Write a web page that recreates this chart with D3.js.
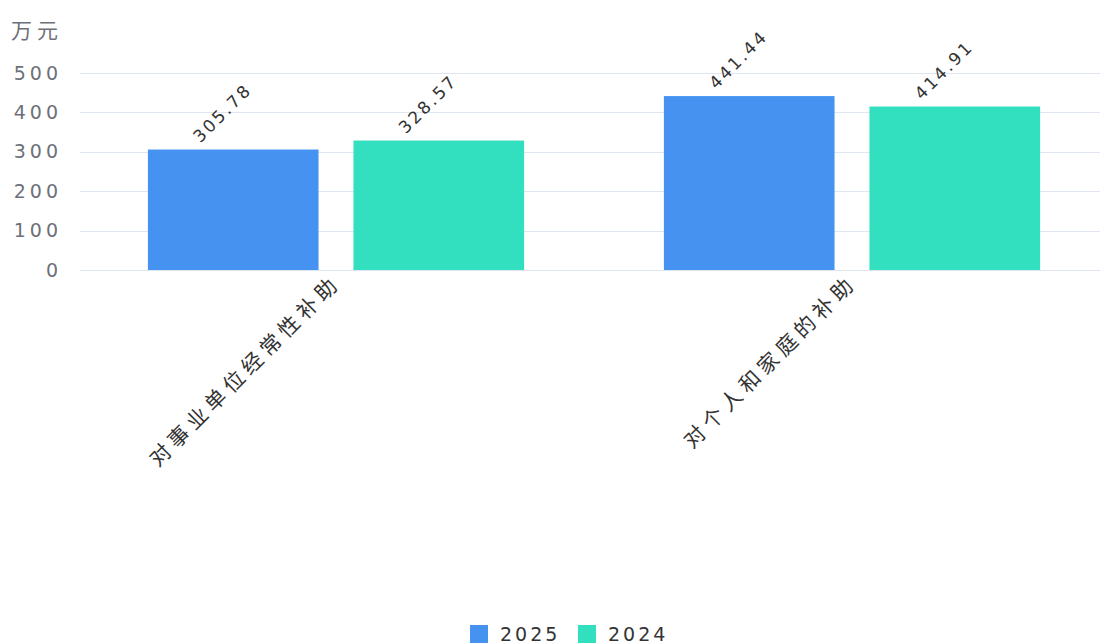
<!DOCTYPE html>
<html><head><meta charset="utf-8">
<script src="https://cdn.jsdelivr.net/npm/d3@7/dist/d3.min.js"></script>
<style>body{margin:0;background:#fff}svg{display:block}</style>
</head><body><svg id="c" width="1100" height="644"></svg>
<script>
const categories = ["对事业单位经常性补助", "对个人和家庭的补助"];
const seriesNames = ["2025", "2024"];
const values2025 = [305.78, 441.44];
const values2024 = [328.57, 414.91];
const yTicks = [0, 100, 200, 300, 400, 500];
const unitLabel = "万元";
const colors = ["#4592F0", "#32DFBE"];

const svg = d3.select("#c");
const font = "'DejaVu Sans', 'Noto Sans CJK SC', sans-serif";
const x = d3.scaleBand().domain(categories).range([78, 1110]).paddingInner(0).paddingOuter(0);
const xs = d3.scaleBand().domain(seriesNames).range([0, x.bandwidth()]).paddingInner(0.17).paddingOuter(0.34);
const y = d3.scaleLinear().domain([0, 500]).range([270, 73]);

// grid
svg.append("g").selectAll("line").data(yTicks).join("line")
  .attr("x1", 80).attr("x2", 1100)
  .attr("y1", d => Math.round(y(d)) + 0.5).attr("y2", d => Math.round(y(d)) + 0.5)
  .attr("stroke", "#e0e6f1").attr("stroke-width", 1);

// y labels
svg.append("g").selectAll("text").data(yTicks).join("text")
  .attr("x", 62).attr("y", d => y(d)).attr("dy", "0.35em")
  .attr("text-anchor", "end").attr("fill", "#6e7079")
  .style("font", `19px ${font}`).style("letter-spacing", "4px")
  .text(d => d);
svg.append("text").attr("x", 11).attr("y", 38).attr("fill", "#6e7079")
  .style("font", `21px 'Noto Sans CJK SC', sans-serif`).style("letter-spacing", "5px").text(unitLabel);

const data = categories.map((c, i) => ({c, vals: [values2025[i], values2024[i]]}));
const g = svg.append("g");
data.forEach(d => {
  d.vals.forEach((v, j) => {
    const bx = x(d.c) + xs(seriesNames[j]);
    g.append("rect").attr("x", bx).attr("y", y(v)).attr("width", xs.bandwidth())
      .attr("height", y(0) - y(v)).attr("fill", colors[j]);
    const cx = bx + xs.bandwidth() / 2 - 33, cy = y(v) - 6;
    g.append("text").attr("transform", `translate(${cx},${cy}) rotate(-45)`)
      .attr("fill", "#333").style("font", `17px ${font}`).style("letter-spacing", "2.5px")
      .text(v.toFixed(2));
  });
});

// category labels
svg.append("g").selectAll("text").data(categories).join("text")
  .attr("transform", d => `translate(${x(d) + x.bandwidth() / 2 + 6},${284}) rotate(-45)`)
  .attr("text-anchor", "end").attr("fill", "#333")
  .style("font", `21px 'Noto Sans CJK SC', sans-serif`).style("letter-spacing", "5px")
  .text(d => d);

// legend
const leg = svg.append("g");
const legX = [470, 578];
seriesNames.forEach((s, i) => {
  leg.append("rect").attr("x", legX[i]).attr("y", 625).attr("width", 18).attr("height", 18).attr("fill", colors[i]);
  leg.append("text").attr("x", legX[i] + 30).attr("y", 634).attr("dy", "0.35em")
    .attr("fill", "#333").style("font", `19px ${font}`).style("letter-spacing", "3px").text(s);
});
</script></body></html>
